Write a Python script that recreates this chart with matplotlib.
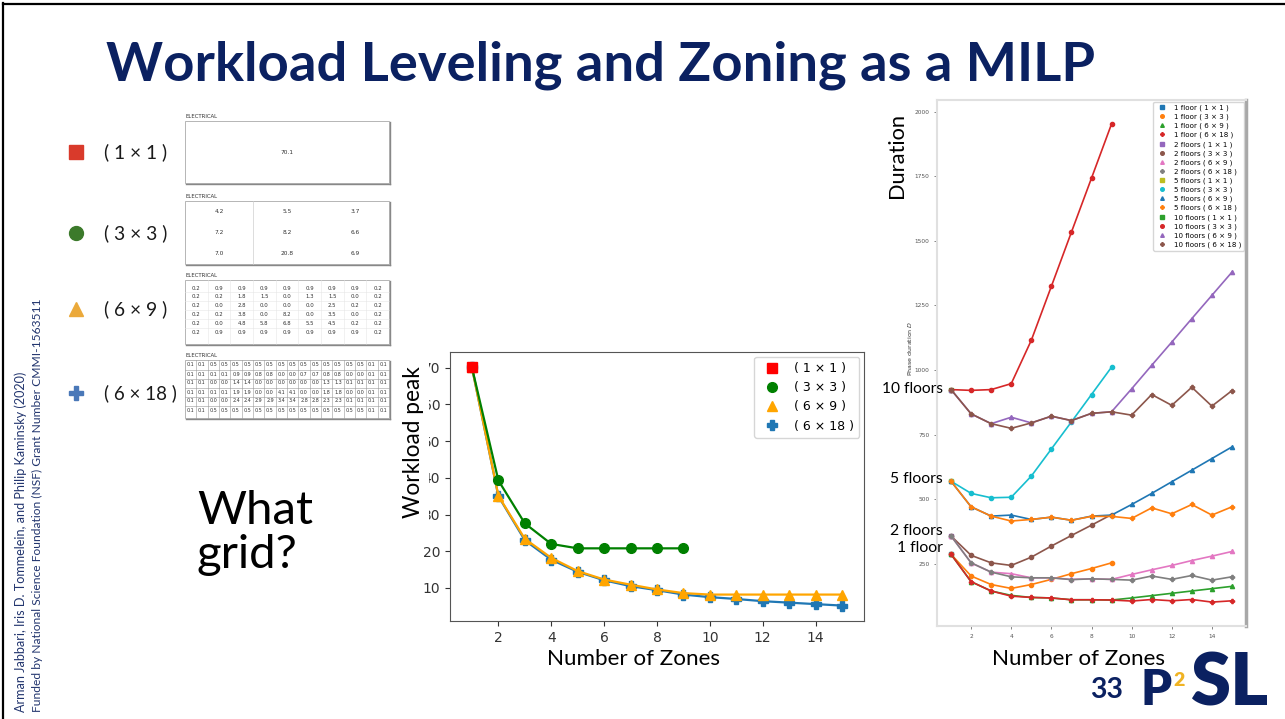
import matplotlib
matplotlib.use('Agg')
import matplotlib.pyplot as plt
from matplotlib.lines import Line2D
from matplotlib.patches import Rectangle

W, H = 1285, 719
NAVY = '#0b2161'
SLIDE_FONT = 'Lato'

# ELECTRICAL workload per cell for each grid
grid_1x1 = [[70.1]]
grid_3x3 = [[4.2, 5.5, 3.7],
            [7.2, 8.2, 6.6],
            [7.0, 20.8, 6.9]]
grid_6x9 = [[0.2, 0.9, 0.9, 0.9, 0.9, 0.9, 0.9, 0.9, 0.2],
            [0.2, 0.2, 1.8, 1.5, 0.0, 1.3, 1.5, 0.0, 0.2],
            [0.2, 0.0, 2.8, 0.0, 0.0, 0.0, 2.5, 0.2, 0.2],
            [0.2, 0.2, 3.8, 0.0, 8.2, 0.0, 3.5, 0.0, 0.2],
            [0.2, 0.0, 4.8, 5.8, 6.8, 5.5, 4.5, 0.2, 0.2],
            [0.2, 0.9, 0.9, 0.9, 0.9, 0.9, 0.9, 0.9, 0.2]]
grid_6x18 = [[0.1, 0.1, 0.5, 0.5, 0.5, 0.5, 0.5, 0.5, 0.5, 0.5, 0.5, 0.5, 0.5, 0.5, 0.5, 0.5, 0.1, 0.1],
             [0.1, 0.1, 0.1, 0.1, 0.9, 0.9, 0.8, 0.8, 0.0, 0.0, 0.7, 0.7, 0.8, 0.8, 0.0, 0.0, 0.1, 0.1],
             [0.1, 0.1, 0.0, 0.0, 1.4, 1.4, 0.0, 0.0, 0.0, 0.0, 0.0, 0.0, 1.3, 1.3, 0.1, 0.1, 0.1, 0.1],
             [0.1, 0.1, 0.1, 0.1, 1.9, 1.9, 0.0, 0.0, 4.1, 4.1, 0.0, 0.0, 1.8, 1.8, 0.0, 0.0, 0.1, 0.1],
             [0.1, 0.1, 0.0, 0.0, 2.4, 2.4, 2.9, 2.9, 3.4, 3.4, 2.8, 2.8, 2.3, 2.3, 0.1, 0.1, 0.1, 0.1],
             [0.1, 0.1, 0.5, 0.5, 0.5, 0.5, 0.5, 0.5, 0.5, 0.5, 0.5, 0.5, 0.5, 0.5, 0.5, 0.5, 0.1, 0.1]]
grid_names = ['( 1 × 1 )', '( 3 × 3 )', '( 6 × 9 )', '( 6 × 18 )']

# workload peak vs number of zones
peak_1x1 = [70.1]
peak_3x3 = [70.1, 39.3, 27.6, 22.0, 20.8, 20.8, 20.8, 20.8, 20.8]
peak_6x9 = [70.1, 35.1, 23.4, 18.2, 14.6, 12.3, 10.9, 9.6, 8.6, 8.2, 8.2, 8.2, 8.2, 8.2, 8.2]
peak_6x18 = [70.1, 35.0, 23.0, 17.7, 14.4, 12.1, 10.5, 9.4, 8.2, 7.5, 7.0, 6.4, 6.0, 5.6, 5.2]

# phase duration vs number of zones, per building height
dur_1f_1x1 = [286]
dur_1f_3x3 = [286, 202, 169, 154, 169, 189, 211, 231, 253]
dur_1f_6x9 = [286, 180, 144, 127, 119, 117, 110, 110, 109, 117, 126, 135, 144, 153, 162]
dur_1f_6x18 = [286, 180, 144, 124, 119, 117, 110, 110, 109, 105, 111, 106, 111, 101, 106]
dur_2f_1x1 = [357]
dur_2f_3x3 = [357, 282, 253, 243, 275, 318, 359, 399, 440]
dur_2f_6x9 = [357, 253, 217, 211, 195, 195, 189, 191, 189, 208, 226, 243, 262, 279, 297]
dur_2f_6x18 = [357, 253, 217, 199, 195, 195, 188, 191, 189, 186, 202, 189, 204, 186, 199]
dur_5f_1x1 = [569]
dur_5f_3x3 = [569, 522, 505, 507, 589, 694, 799, 905, 1011]
dur_5f_6x9 = [569, 470, 434, 438, 421, 430, 418, 434, 438, 479, 522, 567, 612, 657, 702]
dur_5f_6x18 = [569, 470, 434, 415, 421, 430, 418, 433, 433, 425, 466, 443, 479, 438, 470]
dur_10f_1x1 = [924]
dur_10f_3x3 = [924, 921, 924, 947, 1115, 1324, 1534, 1743, 1953]
dur_10f_6x9 = [924, 830, 792, 817, 795, 821, 804, 832, 838, 927, 1018, 1108, 1199, 1289, 1379]
dur_10f_6x18 = [924, 830, 792, 774, 795, 821, 804, 832, 838, 825, 905, 863, 933, 860, 920]
floor_names = ['1 floor', '2 floors', '5 floors', '10 floors']

fig = plt.figure(figsize=(W / 100, H / 100), dpi=100)
renderer = fig.canvas.get_renderer()


def fig_box(x0, y0, x1, y1):
    # pixel box (top-left origin) -> figure rect
    return [x0 / W, 1 - y1 / H, (x1 - x0) / W, (y1 - y0) / H]


def fit(t, size, vertical=False):
    bb = t.get_window_extent(renderer)
    cur = bb.height if vertical else bb.width
    t.set_fontsize(t.get_fontsize() * size / cur)


# ---- workload peak chart
ax = fig.add_axes(fig_box(450, 352, 864, 621))
ax.plot(range(1, len(peak_6x18) + 1), peak_6x18, color='#1f77b4', lw=1.6,
        marker='P', ms=7)
ax.plot(range(1, len(peak_6x9) + 1), peak_6x9, color='orange', lw=1.6,
        marker='^', ms=7.5)
ax.plot(range(1, len(peak_3x3) + 1), peak_3x3, color='green', lw=1.6,
        marker='o', ms=7)
ax.plot(range(1, len(peak_1x1) + 1), peak_1x1, color='red', lw=0,
        marker='s', ms=7)
ax.set_xlim(0.17, 15.83)
ax.set_ylim(1.0, 74.3)
ax.set_xticks(range(2, 15, 2))
ax.set_yticks(range(10, 71, 10))
ax.tick_params(labelsize=10, colors='#333333')
for s in ax.spines.values():
    s.set_color('#555555')
handles = [Line2D([], [], ls='none', marker=m, color=c, ms=7)
           for m, c in zip(['s', 'o', '^', 'P'], ['red', 'green', 'orange', '#1f77b4'])]
ax.legend(handles, grid_names, loc='upper right', fontsize=9, borderaxespad=0.4)

# ---- phase duration chart
ax2 = fig.add_axes(fig_box(937, 100, 1246, 626))
dur_series = [dur_1f_1x1, dur_1f_3x3, dur_1f_6x9, dur_1f_6x18,
              dur_2f_1x1, dur_2f_3x3, dur_2f_6x9, dur_2f_6x18,
              dur_5f_1x1, dur_5f_3x3, dur_5f_6x9, dur_5f_6x18,
              dur_10f_1x1, dur_10f_3x3, dur_10f_6x9, dur_10f_6x18]
markers = ['s', 'o', '^', 'P']
handles2, labels2 = [], []
for i, vals in enumerate(dur_series):
    m = markers[i % 4]
    line, = ax2.plot(range(1, len(vals) + 1), vals, marker=m, ms=3, lw=1.2)
    handles2.append(Line2D([], [], ls='none', marker=m, ms=2.6, color=line.get_color()))
    labels2.append(f'{floor_names[i // 4]} {grid_names[i % 4]}')
ax2.set_yticks(range(250, 2001, 250))
ax2.set_xticks(range(2, 15, 2))
ax2.tick_params(labelsize=4.2, colors='#555555', length=2, width=0.5)
ax2.text(-0.088, 0.475, 'Phase duration $D$', rotation=90, transform=ax2.transAxes,
         ha='center', va='bottom', fontsize=4.5, color='#333333')
for s in ax2.spines.values():
    s.set_color('#e0e0e0')
    s.set_linewidth(1.5)
ax2.spines['right'].set_color('#a8a8a8')
ax2.spines['right'].set_linewidth(2.5)
ax2.legend(handles2, labels2, loc='upper right', fontsize=5.1, labelspacing=0.37,
           borderaxespad=0.25, handletextpad=0.9, handlelength=1.6)

# ---- slide layer (pixel coordinates, y down)
page = fig.add_axes([0, 0, 1, 1], zorder=5)
page.set_xlim(0, W)
page.set_ylim(H, 0)
page.axis('off')

page.plot([3, 3], [3, H], color='black', lw=1.6, clip_on=False)
page.plot([3, W], [3.5, 3.5], color='black', lw=1.6, clip_on=False)

t = page.text(601, 80, 'Workload Leveling and Zoning as a MILP', ha='center', va='baseline',
              family=SLIDE_FONT, weight='bold', color=NAVY, fontsize=40)
fit(t, 988)

# grid legend on the left
left_marks = [('s', '#d93a2b'), ('o', '#3c7a2b'), ('^', '#eba93a'), ('P', '#4a78b8')]
left_y = [152, 233, 309, 393]
for (m, c), y, name in zip(left_marks, left_y, grid_names):
    page.plot(76, y, marker=m, color=c, ms=10, ls='none')
    t = page.text(104, y, name, va='center', family=SLIDE_FONT, color='#1a1a1a', fontsize=15)
    fit(t, 64 if len(name) < 10 else 73)


def draw_table(grid, top, bottom, row_top, row_bottom, fs, line_color):
    left, right = 185, 389
    nr, nc = len(grid), len(grid[0])
    cw = (right - left) / nc
    rh = (row_bottom - row_top) / nr
    page.text(left + 1, top - 2, 'ELECTRICAL', fontsize=3.9, va='bottom',
              family='DejaVu Sans', color='#333333')
    if line_color:
        for j in range(1, nc):
            page.plot([left + cw * j] * 2, [top, bottom], color=line_color, lw=0.4)
        for i in range(1, nr):
            yy = row_top + rh * i
            page.plot([left, right], [yy, yy], color=line_color, lw=0.4)
    for i, row in enumerate(grid):
        for j, v in enumerate(row):
            page.text(left + cw * (j + 0.5), row_top + rh * (i + 0.5), f'{v:.1f}',
                      ha='center', va='center', fontsize=fs, family='DejaVu Sans',
                      color='#333333')
    page.add_patch(Rectangle((left, top), right - left, bottom - top, fill=False,
                             ec='#b5b5b5', lw=0.7))
    page.plot([right + 1, right + 1], [top + 1, bottom + 1], color='#888888', lw=1.0)
    page.plot([left + 1, right + 1], [bottom + 1, bottom + 1], color='#888888', lw=1.0)


draw_table(grid_1x1, 121, 183, 121, 183, 4.2, None)
draw_table(grid_3x3, 201, 264, 201, 264, 4.2, None)
page.plot([253, 253], [201, 264], color='#cfcfcf', lw=0.5)
draw_table(grid_6x9, 280, 344, 283.6, 336.4, 3.9, '#e6e6e6')
draw_table(grid_6x18, 360, 418, 360.5, 414.5, 3.5, '#9a9a9a')

t = page.text(197, 524, 'What', va='baseline', family=SLIDE_FONT, fontsize=36, color='black')
fit(t, 116)
page.text(197, 568, 'grid?', va='baseline', family=SLIDE_FONT, fontsize=t.get_fontsize(),
          color='black')

# footer credits
t = page.text(21, 712, 'Arman Jabbari, Iris D. Tommelein, and Philip Kaminsky (2020)',
              rotation=90, ha='center', va='bottom', family=SLIDE_FONT, fontsize=8,
              color='#22356e')
fit(t, 340, vertical=True)
t = page.text(37, 712, 'Funded by National Science Foundation (NSF) Grant Number CMMI-1563511',
              rotation=90, ha='center', va='bottom', family=SLIDE_FONT, fontsize=8,
              color='#22356e')
fit(t, 414, vertical=True)

# axis captions for the two charts
page.add_patch(Rectangle((398, 356), 31, 165, fc='white', ec='none'))
t = page.text(413, 442, 'Workload peak', rotation=90, ha='center', va='center',
              family=SLIDE_FONT, fontsize=16, color='black')
fit(t, 152, vertical=True)
for cx in [633.5, 1078.5]:
    t = page.text(cx, 665, 'Number of Zones', ha='center', va='baseline',
                  family=SLIDE_FONT, fontsize=16, color='black')
    fit(t, 173)
t = page.text(897, 155, 'Duration', rotation=90, ha='center', va='center',
              family=SLIDE_FONT, fontsize=16, color='black')
fit(t, 86, vertical=True)

# floor count tags next to the duration chart
for name, y in zip(['10 floors', '5 floors', '2 floors', '1 floor'], [389, 479, 531, 548]):
    t = page.text(943, y, name, ha='right', va='center', family=SLIDE_FONT, fontsize=13,
                  color='black')
    fit(t, 61 if name == '10 floors' else (53 if name != '1 floor' else 46))

# page number and lab logo
t = page.text(1090, 698, '33', va='baseline', family=SLIDE_FONT, weight='bold',
              color=NAVY, fontsize=18)
fit(t, 33)
t = page.text(1141, 705, 'P', va='baseline', family=SLIDE_FONT, weight='heavy',
              color=NAVY, fontsize=30)
fit(t, 31)
page.text(1173, 686, '2', va='baseline', family=SLIDE_FONT, weight='heavy',
          color='#f0b323', fontsize=14)
t = page.text(1190, 705, 'SL', va='baseline', family=SLIDE_FONT, weight='heavy',
              color=NAVY, fontsize=30)
fit(t, 78)

fig.savefig('out.png', dpi=100)
